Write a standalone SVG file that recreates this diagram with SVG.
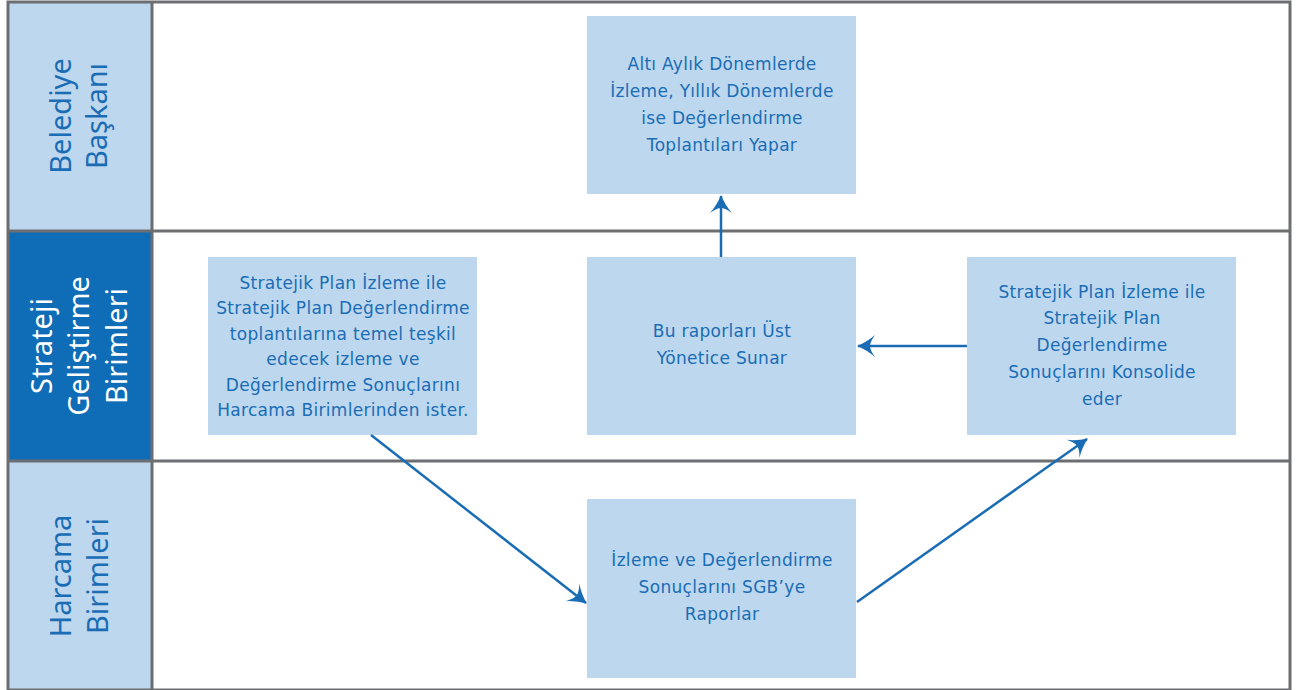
<svg xmlns="http://www.w3.org/2000/svg" width="1303" height="690" viewBox="0 0 1303 690">
<defs>
<style>
.box{fill:#bdd7ee}
.t{font-family:"DejaVu Sans",sans-serif;font-size:17px;letter-spacing:0.3px;fill:#1a6db5;text-anchor:middle}
.lane{font-family:"Noto Sans",sans-serif;font-size:29px;fill:#1a6db5;text-anchor:middle}
.lanew{fill:#ffffff}
.grid{stroke:#6d6e71;stroke-width:3;fill:none}
.conn{stroke:#1a6db5;stroke-width:2.5;fill:none;marker-end:url(#ah)}
</style>
<marker id="ah" markerUnits="userSpaceOnUse" viewBox="-20 -12 22 24" refX="0" refY="0" markerWidth="22" markerHeight="24" orient="auto">
<path d="M1,0 Q-9,-4 -17,-11 Q-12,-4 -12,0 Q-12,4 -17,11 Q-9,4 1,0 Z" fill="#1a6db5"/>
</marker>
</defs>
<rect width="1303" height="690" fill="#ffffff"/>
<g id="lanes">
<rect x="8" y="2" width="144" height="229" fill="#bdd7ee"/>
<rect x="8" y="231" width="144" height="230" fill="#0f6cb6"/>
<rect x="8" y="461" width="144" height="229" fill="#bdd7ee"/>
</g>
<g id="lane-belediye">
<text class="lane" transform="translate(71,116) rotate(-90)">Belediye</text>
<text class="lane" transform="translate(107,116) rotate(-90)">Başkanı</text>
</g>
<g id="lane-strateji">
<text class="lane lanew" transform="translate(52,346) rotate(-90)">Strateji</text>
<text class="lane lanew" transform="translate(89,346) rotate(-90)">Geliştirme</text>
<text class="lane lanew" transform="translate(127,346) rotate(-90)">Birimleri</text>
</g>
<g id="lane-harcama">
<text class="lane" transform="translate(71,576) rotate(-90)">Harcama</text>
<text class="lane" transform="translate(108,576) rotate(-90)">Birimleri</text>
</g>
<g id="grid">
<rect class="grid" x="8" y="2" width="1282" height="688"/>
<line class="grid" x1="152" y1="2" x2="152" y2="690"/>
<line class="grid" x1="8" y1="231" x2="1290" y2="231"/>
<line class="grid" x1="8" y1="461" x2="1290" y2="461"/>
</g>
<g id="node-top">
<rect class="box" x="587" y="16" width="269" height="178"/>
<text class="t" x="722" y="70">Altı Aylık Dönemlerde</text>
<text class="t" x="722" y="97">İzleme, Yıllık Dönemlerde</text>
<text class="t" x="722" y="124">ise Değerlendirme</text>
<text class="t" x="722" y="151">Toplantıları Yapar</text>
</g>
<g id="node-left">
<rect class="box" x="208" y="257" width="269" height="178"/>
<text class="t" x="343" y="289">Stratejik Plan İzleme ile</text>
<text class="t" x="343" y="314">Stratejik Plan Değerlendirme</text>
<text class="t" x="343" y="340">toplantılarına temel teşkil</text>
<text class="t" x="343" y="365">edecek izleme ve</text>
<text class="t" x="343" y="391">Değerlendirme Sonuçlarını</text>
<text class="t" x="343" y="416">Harcama Birimlerinden ister.</text>
</g>
<g id="node-mid">
<rect class="box" x="587" y="257" width="269" height="178"/>
<text class="t" x="722" y="337">Bu raporları Üst</text>
<text class="t" x="722" y="364">Yönetice Sunar</text>
</g>
<g id="node-right">
<rect class="box" x="967" y="257" width="269" height="178"/>
<text class="t" x="1102" y="298">Stratejik Plan İzleme ile</text>
<text class="t" x="1102" y="324">Stratejik Plan</text>
<text class="t" x="1102" y="351">Değerlendirme</text>
<text class="t" x="1102" y="378">Sonuçlarını Konsolide</text>
<text class="t" x="1102" y="405">eder</text>
</g>
<g id="node-bottom">
<rect class="box" x="587" y="499" width="269" height="179"/>
<text class="t" x="722" y="566">İzleme ve Değerlendirme</text>
<text class="t" x="722" y="593">Sonuçlarını SGB’ye</text>
<text class="t" x="722" y="620">Raporlar</text>
</g>
<g id="connectors">
<line class="conn" x1="721" y1="257" x2="721" y2="196"/>
<line class="conn" x1="967" y1="346" x2="858" y2="346"/>
<line class="conn" x1="371" y1="435" x2="586" y2="603"/>
<line class="conn" x1="857" y1="602" x2="1087" y2="439"/>
</g>
</svg>
